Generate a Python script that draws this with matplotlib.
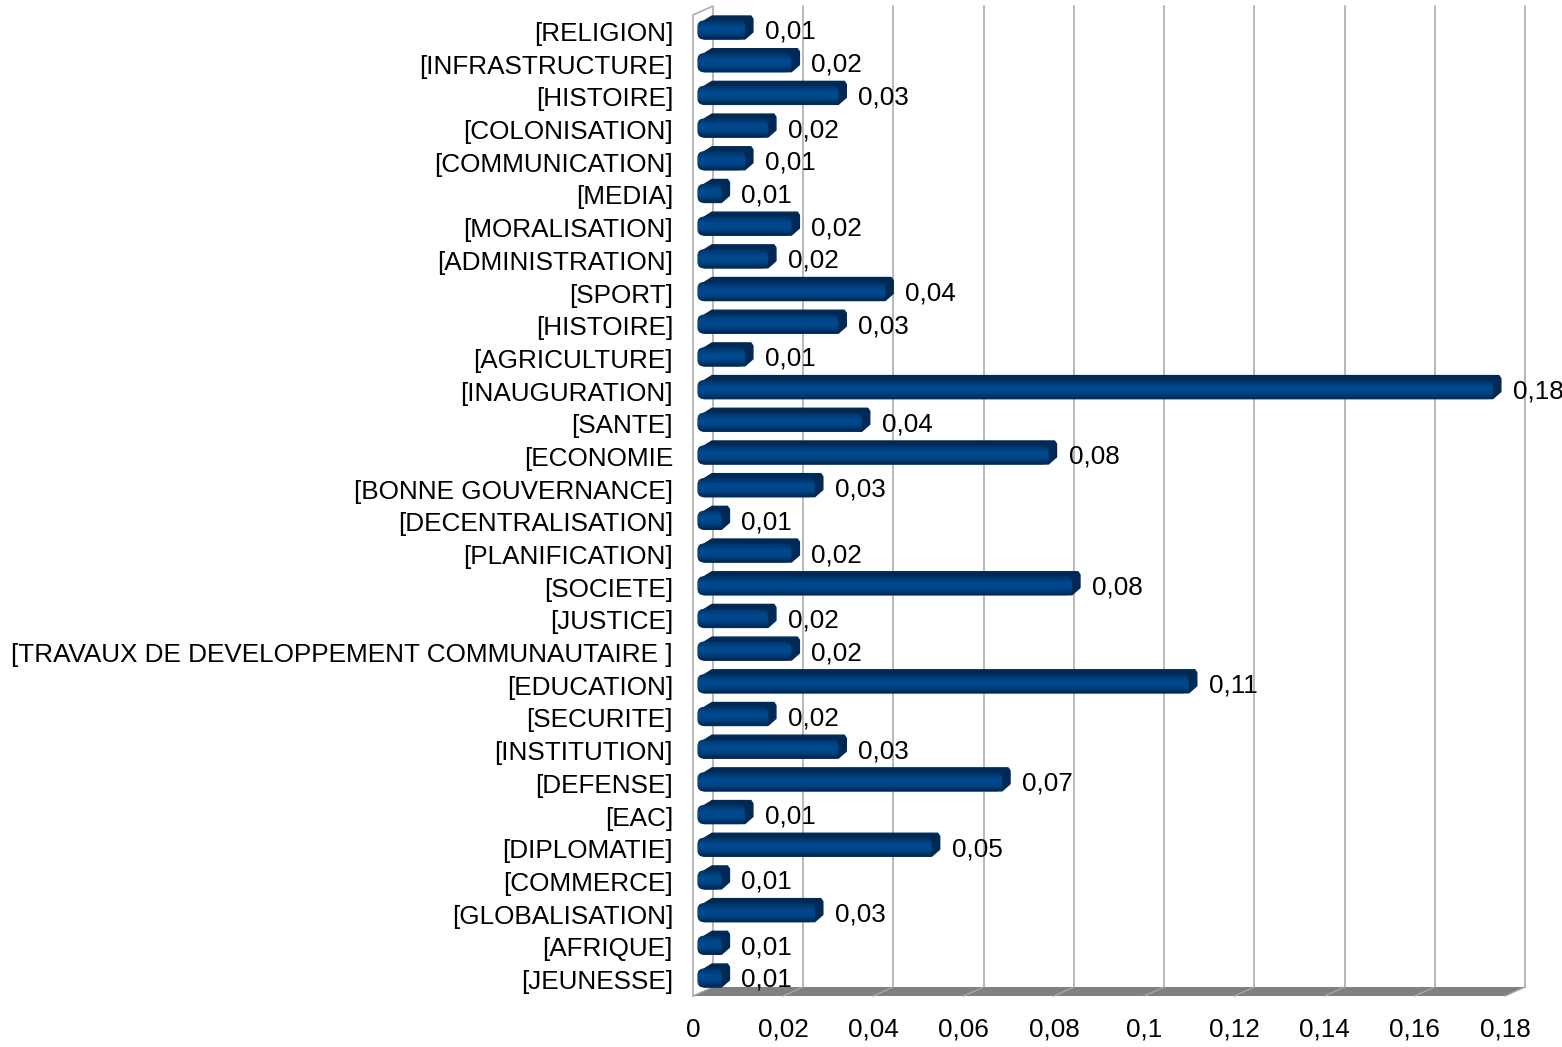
import matplotlib
matplotlib.use('Agg')
import numpy as np
import matplotlib.pyplot as plt
from matplotlib.patches import Polygon, FancyBboxPatch
from matplotlib.colors import LinearSegmentedColormap

plt.rcParams['font.family'] = ['Liberation Sans', 'DejaVu Sans']

# ---------------- data (top to bottom as displayed) ----------------
categories = ['[RELIGION]', '[INFRASTRUCTURE]', '[HISTOIRE]', '[COLONISATION]',
              '[COMMUNICATION]', '[MEDIA]', '[MORALISATION]', '[ADMINISTRATION]',
              '[SPORT]', '[HISTOIRE]', '[AGRICULTURE]', '[INAUGURATION]', '[SANTE]',
              '[ECONOMIE', '[BONNE GOUVERNANCE]', '[DECENTRALISATION]',
              '[PLANIFICATION]', '[SOCIETE]', '[JUSTICE]',
              '[TRAVAUX DE DEVELOPPEMENT COMMUNAUTAIRE ]', '[EDUCATION]',
              '[SECURITE]', '[INSTITUTION]', '[DEFENSE]', '[EAC]', '[DIPLOMATIE]',
              '[COMMERCE]', '[GLOBALISATION]', '[AFRIQUE]', '[JEUNESSE]']
values = [0.0104, 0.0207, 0.0311, 0.0155,
          0.0104, 0.0052, 0.0207, 0.0155,
          0.0415, 0.0311, 0.0104, 0.1762, 0.0363,
          0.0777, 0.0259, 0.0052,
          0.0207, 0.0829, 0.0155,
          0.0207, 0.1088,
          0.0155, 0.0311, 0.0674, 0.0104, 0.0518,
          0.0052, 0.0259, 0.0052, 0.0052]
xticks = [0, 0.02, 0.04, 0.06, 0.08, 0.10, 0.12, 0.14, 0.16, 0.18]
xtick_labels = ['0', '0,02', '0,04', '0,06', '0,08', '0,1', '0,12', '0,14', '0,16', '0,18']

# ---------------- layout ----------------
W, H = 1562, 1047
fig = plt.figure(figsize=(W / 100, H / 100), dpi=100)
fig.patch.set_facecolor('white')
L, R, B, T = 693, 1505, 996, 15          # front plane box in pixels
first_px, last_px = 32, 980              # label centres of first / last category
n = len(categories)
sp = (last_px - first_px) / (n - 1)      # pixels per category
ax = fig.add_axes([L / W, (H - B) / H, (R - L) / W, (B - T) / H])
xmax = xticks[-1]
y0 = -(B - last_px) / sp
y1 = (n - 1) + (first_px - T) / sp
ax.axis('off')

kx = (R - L) / xmax   # px per x unit
ky = sp               # px per y unit
def px(p):
    return p / kx
def py(p):
    return p / ky

FS = 18.8

# depth offsets (back plane)
dxB, dyB = px(20), py(9)

grid_c = '#b3b3b3'
# left wall
ax.plot([0, 0, dxB, dxB], [y0, y1, y1 + dyB, y0 + dyB], color=grid_c, lw=1.3,
        clip_on=False, zorder=1, solid_joinstyle='miter')
# back gridlines
for t in xticks[1:]:
    ax.plot([t + dxB, t + dxB], [y0 + dyB, y1 + dyB], color=grid_c, lw=1.3,
            clip_on=False, zorder=1)
# floor
ax.add_patch(Polygon([(0, y0), (xmax, y0), (xmax + dxB, y0 + dyB), (dxB, y0 + dyB)],
                     closed=True, facecolor='#808080', edgecolor='none',
                     clip_on=False, zorder=2))
for t in xticks:
    ax.plot([t, t + dxB], [y0, y0 + dyB], color='#a6a6a6', lw=1.0,
            clip_on=False, zorder=2.5)

# tick labels
for t, lab in zip(xticks, xtick_labels):
    ax.text(t, y0 - py(34), lab, ha='center', va='center', fontsize=FS,
            color='black', clip_on=False)

# bars (3D style)
f_dx, f_dy = px(5), py(2)      # front face offset
b_dx, b_dy = px(13), py(7)     # back face offset
hd = py(18)                    # front face height
dark_c = '#002a55'
grad = LinearSegmentedColormap.from_list(
    'g', ['#00264d', '#003b75', '#00478a', '#004a8f', '#004080', '#00356a'])
gimg = np.linspace(1, 0, 64).reshape(-1, 1)
for i, (cat, v) in enumerate(zip(categories, values)):
    y = n - 1 - i
    xf0, xf1 = f_dx, v + f_dx
    yf0, yf1 = y + f_dy - hd / 2, y + f_dy + hd / 2
    ddx, ddy = b_dx - f_dx, b_dy - f_dy
    r = px(6)
    hexa = [(xf0 + r, yf1), (xf0 + r + ddx, yf1 + ddy), (xf1 + ddx - px(2), yf1 + ddy),
            (xf1 + ddx, yf1 + ddy - py(3)), (xf1 + ddx, yf0 + ddy + py(2)),
            (xf1, yf0), (xf0 + r, yf0)]
    ax.add_patch(Polygon(hexa, closed=True, facecolor=dark_c, edgecolor=dark_c,
                         lw=1.0, joinstyle='round', clip_on=False, zorder=4))
    face = FancyBboxPatch((xf0, yf0), v, hd,
                          boxstyle='round,pad=0,rounding_size=%f' % r,
                          mutation_aspect=kx / ky,
                          facecolor='#004586', edgecolor='#00315f', lw=0.8,
                          clip_on=False, zorder=5)
    ax.add_patch(face)
    im = ax.imshow(gimg, extent=[xf0, xf1, yf0, yf1], aspect='auto', cmap=grad,
                   interpolation='bilinear', zorder=5.1, clip_on=True)
    im.set_clip_path(face)
    # category label
    ax.text(-px(20), y - py(2), cat, ha='right', va='center', fontsize=FS,
            color='black', clip_on=False)
    # value label
    ax.text(v + px(25), y, ('%.2f' % v).replace('.', ','),
            ha='left', va='center', fontsize=FS, color='black',
            clip_on=False, zorder=6)

ax.set_xlim(0, xmax)
ax.set_ylim(y0, y1)
ax.set_aspect('auto')

fig.savefig('out.png', dpi=100, facecolor='white')
